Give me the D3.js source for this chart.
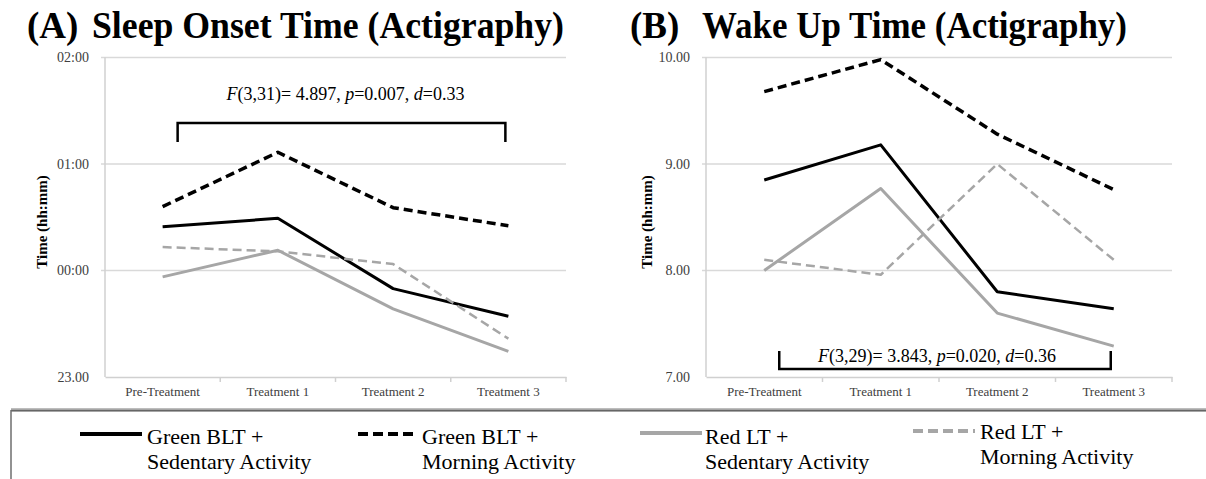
<!DOCTYPE html>
<html>
<head>
<meta charset="utf-8">
<script src="https://cdn.jsdelivr.net/npm/d3@7"></script>
<style>
  html, body { margin: 0; padding: 0; background: #fff; }
  svg { display: block; font-family: "Liberation Serif", "Times New Roman", serif; }
</style>
</head>
<body>
<svg id="chart" width="1206" height="479"></svg>
<script>
// categories on the x axis (same for both panels)
const categories = ["Pre-Treatment", "Treatment 1", "Treatment 2", "Treatment 3"];

// series names (legend, two lines each)
const seriesNames = [
  ["Green BLT +", "Sedentary Activity"],
  ["Green BLT +", "Morning Activity"],
  ["Red LT +", "Sedentary Activity"],
  ["Red LT +", "Morning Activity"]
];

// (A) sleep onset, hours relative to midnight (negative = before 00:00)
const onsetGreenSed  = [0.41, 0.49, -0.17, -0.43];
const onsetGreenMorn = [0.60, 1.11, 0.59, 0.42];
const onsetRedSed    = [-0.06, 0.19, -0.36, -0.76];
const onsetRedMorn   = [0.22, 0.18, 0.06, -0.64];

// (B) wake up time, clock hours
const wakeGreenSed  = [8.85, 9.18, 7.80, 7.64];
const wakeGreenMorn = [9.68, 9.98, 9.28, 8.76];
const wakeRedSed    = [8.00, 8.77, 7.60, 7.29];
const wakeRedMorn   = [8.10, 7.96, 9.00, 8.10];

// y ticks
const onsetTicks = [-1, 0, 1, 2];
const onsetTickLabels = ["23.00", "00:00", "01:00", "02:00"];
const wakeTicks = [7, 8, 9, 10];
const wakeTickLabels = ["7.00", "8.00", "9.00", "10.00"];

// statistics text, [text, italic]
const onsetStat = [["F", true], ["(3,31)= 4.897, ", false], ["p", true], ["=0.007, ", false], ["d", true], ["=0.33", false]];
const wakeStat  = [["F", true], ["(3,29)= 3.843, ", false], ["p", true], ["=0.020, ", false], ["d", true], ["=0.36", false]];

// line styles per series
const styles = [
  { color: "#000000", width: 3, dash: null },
  { color: "#000000", width: 3.5, dash: "9,5" },
  { color: "#a6a6a6", width: 3, dash: null },
  { color: "#a6a6a6", width: 2.5, dash: "9,5" }
];

const svg = d3.select("#chart");
svg.append("rect").attr("width", 1206).attr("height", 479).attr("fill", "#fff");

function drawPanel(cfg) {
  const g = svg.append("g");

  const x = d3.scaleBand().domain(categories).range([cfg.x0, cfg.x1]);
  const y = d3.scaleLinear().domain(cfg.domain).range([377, 57.5]);

  // title
  g.append("text")
    .attr("x", cfg.labelX).attr("y", 38)
    .style("font-size", "37px").style("font-weight", "bold").attr("fill", "#000")
    .text(cfg.label);
  g.append("text")
    .attr("x", cfg.titleX).attr("y", 38)
    .attr("textLength", cfg.titleW).attr("lengthAdjust", "spacingAndGlyphs")
    .style("font-size", "37px").style("font-weight", "bold").attr("fill", "#000")
    .text(cfg.title);

  // gridlines
  g.append("g").selectAll("line")
    .data(cfg.ticks.slice(1))
    .enter().append("line")
    .attr("x1", cfg.x0 - 4).attr("x2", cfg.x1)
    .attr("y1", d => y(d)).attr("y2", d => y(d))
    .attr("stroke", "#d9d9d9").attr("stroke-width", 1.5);

  // y axis line
  g.append("line")
    .attr("x1", cfg.x0).attr("x2", cfg.x0)
    .attr("y1", y(cfg.domain[1])).attr("y2", y(cfg.domain[0]))
    .attr("stroke", "#d0d0d0").attr("stroke-width", 1.5);

  // y tick labels
  g.append("g").selectAll("text")
    .data(cfg.ticks)
    .enter().append("text")
    .attr("x", cfg.x0 - 16).attr("y", d => y(d)).attr("dy", "0.35em")
    .attr("text-anchor", "end")
    .attr("fill", "#404040")
    .style("font-size", "14px")
    .text((d, i) => cfg.tickLabels[i]);

  // x axis with band boundary ticks
  const xAxis = d3.axisBottom(x).tickSize(0).tickPadding(10);
  const ax = g.append("g").attr("transform", `translate(0,${y(cfg.domain[0])})`).call(xAxis);
  ax.select(".domain").attr("stroke", "#d0d0d0").attr("stroke-width", 1.5);
  ax.selectAll("text")
    .style("font-family", "Liberation Serif, serif")
    .style("font-size", "13px").attr("fill", "#404040");
  ax.append("g").selectAll("line")
    .data(categories)
    .enter().append("line")
    .attr("x1", d => x(d) + x.bandwidth()).attr("x2", d => x(d) + x.bandwidth())
    .attr("y1", 0).attr("y2", 5)
    .attr("stroke", "#d0d0d0").attr("stroke-width", 1.5);

  // y axis title
  g.append("text")
    .attr("transform", `translate(${cfg.axisTitleX},222) rotate(-90)`)
    .attr("text-anchor", "middle")
    .style("font-size", "15px").style("font-weight", "bold")
    .text("Time (hh:mm)");

  // series lines
  const line = d3.line()
    .x((d, i) => x(categories[i]) + x.bandwidth() / 2)
    .y(d => y(d));

  cfg.series.forEach((vals, i) => {
    g.append("path")
      .datum(vals)
      .attr("fill", "none")
      .attr("stroke", styles[i].color)
      .attr("stroke-width", styles[i].width)
      .attr("stroke-dasharray", styles[i].dash)
      .attr("stroke-linejoin", "round")
      .attr("d", line);
  });

  // significance bracket
  const bx0 = x(categories[0]) + x.bandwidth() / 2 + 15;
  const bx1 = x(categories[3]) + x.bandwidth() / 2 - 3;
  const b = cfg.bracket;
  g.append("path")
    .attr("fill", "none").attr("stroke", "#000").attr("stroke-width", 2.5)
    .attr("d", `M${bx0},${b.tip}V${b.bar}H${bx1}V${b.tip}`);

  const st = g.append("text")
    .attr("x", (bx0 + bx1) / 2 + b.dx).attr("y", b.textY)
    .attr("text-anchor", "middle")
    .style("font-size", "18px");
  cfg.stat.forEach(s => {
    st.append("tspan").style("font-style", s[1] ? "italic" : "normal").text(s[0]);
  });
}

drawPanel({
  x0: 105, x1: 566, domain: [-1, 2],
  ticks: onsetTicks, tickLabels: onsetTickLabels,
  label: "(A)", labelX: 27, title: "Sleep Onset Time (Actigraphy)", titleX: 92, titleW: 472,
  axisTitleX: 47,
  series: [onsetGreenSed, onsetGreenMorn, onsetRedSed, onsetRedMorn],
  stat: onsetStat,
  bracket: { bar: 123, tip: 142, textY: 100, dx: 4 }
});

drawPanel({
  x0: 706, x1: 1172, domain: [7, 10],
  ticks: wakeTicks, tickLabels: wakeTickLabels,
  label: "(B)", labelX: 630, title: "Wake Up Time (Actigraphy)", titleX: 702, titleW: 425,
  axisTitleX: 652,
  series: [wakeGreenSed, wakeGreenMorn, wakeRedSed, wakeRedMorn],
  stat: wakeStat,
  bracket: { bar: 369, tip: 351, textY: 362, dx: -8 }
});

// legend box
const leg = svg.append("g");
leg.append("line").attr("x1", 11).attr("x2", 1206).attr("y1", 410).attr("y2", 410)
  .attr("stroke", "#bdbdbd").attr("stroke-width", 4);
leg.append("line").attr("x1", 11).attr("x2", 1206).attr("y1", 410.5).attr("y2", 410.5)
  .attr("stroke", "#666").attr("stroke-width", 1.5);
leg.append("line").attr("x1", 11).attr("x2", 11).attr("y1", 410).attr("y2", 479)
  .attr("stroke", "#6e6e6e").attr("stroke-width", 1.5);

const legendItems = [
  { x0: 80, x1: 142, y: 434, tx: 147, ty: 444 },
  { x0: 358, x1: 415, y: 434, tx: 422, ty: 444 },
  { x0: 640, x1: 702, y: 433, tx: 705, ty: 444 },
  { x0: 913, x1: 975, y: 431, tx: 980, ty: 439 }
];

legendItems.forEach((it, i) => {
  leg.append("line")
    .attr("x1", it.x0).attr("x2", it.x1).attr("y1", it.y).attr("y2", it.y)
    .attr("stroke", styles[i].color).attr("stroke-width", 4)
    .attr("stroke-dasharray", styles[i].dash ? "10,5" : null);
  const t = leg.append("text").attr("x", it.tx).attr("y", it.ty)
    .style("font-size", "22px").attr("fill", "#000");
  t.append("tspan").attr("x", it.tx).text(seriesNames[i][0]);
  t.append("tspan").attr("x", it.tx).attr("dy", 25).text(seriesNames[i][1]);
});
</script>
</body>
</html>
